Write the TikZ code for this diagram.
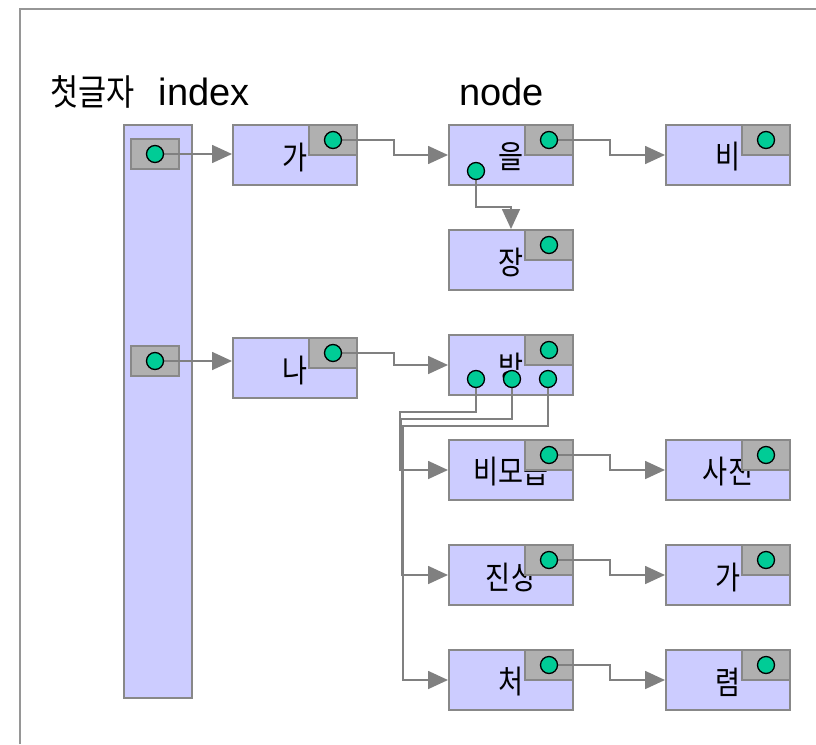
\documentclass[tikz,border=0pt]{standalone}
\usepackage{fontspec}
\setmainfont{Liberation Sans}
\newfontfamily\kr[FakeStretch=0.85]{Noto Sans CJK KR}
\usetikzlibrary{arrows.meta}

\definecolor{boxfill}{RGB}{204,204,255}
\definecolor{boxline}{RGB}{136,136,136}
\definecolor{ptrfill}{RGB}{176,176,176}
\definecolor{dotfill}{RGB}{0,204,150}
\definecolor{wire}{RGB}{128,128,128}
\definecolor{frame}{RGB}{150,150,150}

\tikzset{
  cell/.style={draw=boxline, line width=2pt, fill=boxfill, minimum width=124pt,
    minimum height=60pt, inner sep=0pt, anchor=north west},
  ptr/.style={draw=boxline, line width=2pt, fill=ptrfill, minimum width=48pt,
    minimum height=30pt, inner sep=0pt},
  ptrdot/.style={circle, draw=black, line width=1.3pt, fill=dotfill,
    minimum size=17pt, inner sep=0pt},
  link/.style={draw=wire, line width=1.7pt, -{Triangle[length=20pt,width=18pt]}},
  celltext/.style={font={\kr\fontsize{32pt}{32pt}\selectfont}, inner sep=0pt},
}

% one list cell: box, its text, the pointer field and the pointer's dot position
\newcommand\listcell[4]{%
  \node[cell] (#1) at (#2,#3) {};
  \node[celltext] (#1t) at ([yshift=-2pt]#1.center) {#4};
  \node[ptr, anchor=north east] (#1p) at (#1.north east) {};
  \coordinate (#1d) at (#1p.center);
}

\begin{document}
\begin{tikzpicture}[x=1pt, y=-1pt]
\useasboundingbox (0,0) rectangle (816,744);

% outer frame
\draw[frame, line width=2pt] (20,744) -- (20,9) -- (816,9);

% headings
\node[anchor=base west, inner sep=0pt] (hidx) at (50,105)
  {{\kr\fontsize{36pt}{36pt}\selectfont 첫글자}\hspace{24pt}{\fontsize{38pt}{38pt}\selectfont index}};
\node[anchor=base west, inner sep=0pt] (hnode) at (459,105)
  {\fontsize{38pt}{38pt}\selectfont node};

% first-letter index column with its two slots
\node[draw=boxline, line width=2pt, fill=boxfill, minimum width=68pt,
  minimum height=573pt, inner sep=0pt, anchor=north west] (col) at (123,124) {};
\node[ptr] (s1) at (155,154) {};
\node[ptr] (s2) at (155,361) {};
\coordinate (s1d) at (s1.center);
\coordinate (s2d) at (s2.center);

% list cells
\listcell{ga}{232}{124}{가}
\listcell{eul}{448}{124}{을}
\listcell{bi}{665}{124}{비}
\listcell{jang}{448}{229}{장}
\listcell{na}{232}{337}{나}
\listcell{bang}{448}{334}{방}
\listcell{bimo}{448}{439}{비모습}
\listcell{sajin}{665}{439}{사진}
\listcell{jinsang}{448}{544}{진상}
\listcell{ga2}{665}{544}{가}
\listcell{cheo}{448}{649}{처}
\listcell{ryeom}{665}{649}{렴}

% child pointers inside cells
\coordinate (euld2) at ([xshift=28pt, yshift=-47pt]eul.north west);
\coordinate (bangd1) at ([xshift=28pt, yshift=-45pt]bang.north west);
\coordinate (bangd2) at ([xshift=64pt, yshift=-45pt]bang.north west);
\coordinate (bangd3) at ([xshift=100pt, yshift=-45pt]bang.north west);

% connectors
\draw[link] (s1d) -- (s1d -| ga.west);
\draw[link] (s2d) -- (s2d -| na.west);
\draw[link] (gad) -- ++(61,0) |- (eul.west);
\draw[link] (nad) -- ++(61,0) |- (bang.west);
\draw[link] (euld) -- ++(61,0) |- (bi.west);
\draw[link] (euld2) -- ++(0,36) -| (jang.north);
\draw[link] (bangd1) -- ++(0,33) -| ([xshift=-48pt]bimo.west) -- (bimo.west);
\draw[link] (bangd2) -- ++(0,40) -| ([xshift=-46.5pt]jinsang.west) -- (jinsang.west);
\draw[link] (bangd3) -- ++(0,47) -| ([xshift=-45pt]cheo.west) -- (cheo.west);
\draw[link] (bimod) -- ++(61,0) |- (sajin.west);
\draw[link] (jinsangd) -- ++(61,0) |- (ga2.west);
\draw[link] (cheod) -- ++(61,0) |- (ryeom.west);

% pointer dots on top of the wires
\foreach \c in {s1d, s2d, gad, euld, bid, jangd, nad, bangd, bimod, sajind,
  jinsangd, ga2d, cheod, ryeomd, euld2, bangd1, bangd2, bangd3}
  \node[ptrdot] at (\c) {};
\end{tikzpicture}
\end{document}
